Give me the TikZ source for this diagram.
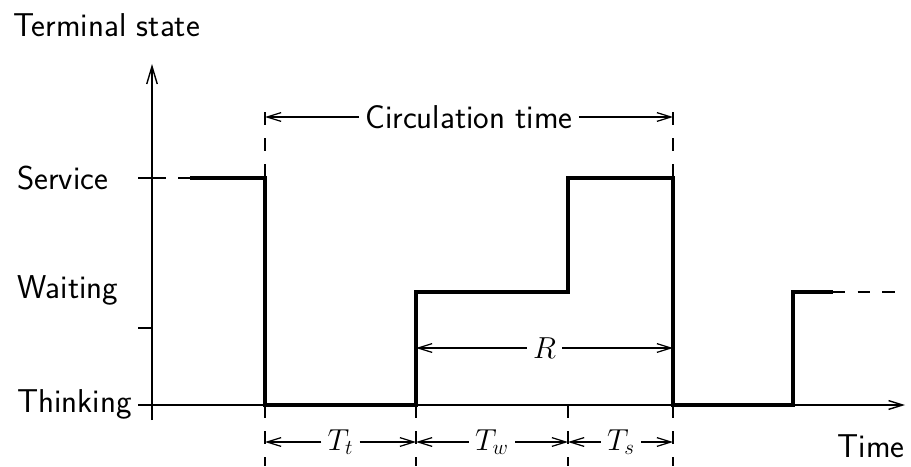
\documentclass[tikz,border=0pt]{standalone}
\usetikzlibrary{arrows.meta, positioning}

\begin{document}
\begin{tikzpicture}[
		x=0.02cm, y=-0.02cm,
		font=\sffamily\fontsize{18.8}{22}\selectfont,
		% --- ESTILOS DE LAS LINEAS ---
		axis/.style = {line width=0.8pt, black},
		signal/.style = {line width=2.8pt, black, line join=miter},
		guide/.style = {line width=0.8pt, dash pattern=on 7.4pt off 7.4pt},
		tail/.style = {line width=0.8pt, dash pattern=on 7pt off 7pt},
		dim/.style = {line width=0.7pt, -{Straight Barb[length=8pt, width=5pt]}},
		% --- ESTILOS DE LOS TEXTOS ---
		lbl/.style = {anchor=base west, inner sep=0pt},
		]
		
		\useasboundingbox (0,0) rectangle (911,466);
		
		% =========================================================================
		% 1. EJES Y ETIQUETAS DE ESTADO
		% =========================================================================
		\coordinate (ytop) at (152,64);
		\coordinate (ybot) at (152,420);
		\coordinate (xstart) at (138,405);
		\coordinate (xend) at (905,405);
		
		\draw [axis, -{Straight Barb[length=10pt, width=6pt]}] (ybot) -- (ytop);
		\draw [axis, -{Straight Barb[length=8pt, width=5pt]}] (xstart) -- (xend);
		\draw [axis] (138,178) -- (165,178);
		\draw [axis] (138,328) -- (152,328);
		
		\node [lbl] (term) at (13,37) {Terminal state};
		\node [lbl] (serv) at (17,189) {Service};
		\node [lbl] (wait) at (17,298) {Waiting};
		\node [lbl] (think) at (17,412) {Thinking};
		\node [anchor=base east, inner sep=0pt] (time) at (905,457) {Time};
		
		% =========================================================================
		% 2. LINEAS GUIA DE LOS INSTANTES
		% =========================================================================
		\coordinate (g0) at (265,405);
		\coordinate (g1) at (416,405);
		\coordinate (g2) at (568,405);
		\coordinate (g3) at (673,405);
		
		\foreach \g in {g0,g1,g2,g3}
			\draw [guide] (\g) -- ([yshift=-61*0.02cm]\g);
		\foreach \g in {g0,g3}
			\draw [guide] ([yshift=293*0.02cm]\g) -- ([yshift=227*0.02cm]\g);
		
		% =========================================================================
		% 3. ESTADO DEL TERMINAL
		% =========================================================================
		\draw [signal] (190,178) -| (g0) -| (416,292) -| (568,178) -| (g3) -| (793,292) -- (833,292);
		\draw [tail] (190,178) -- (165,178);
		\draw [tail] (833,292) -- (900,292);
		
		% =========================================================================
		% 4. COTAS DE TIEMPO
		% =========================================================================
		\node (circ) at (469,117) {Circulation time};
		\draw [dim] (circ.west) -- (circ.west -| g0);
		\draw [dim] (circ.east) -- (circ.east -| g3);
		
		\node (resp) at (544.5,348) {$R$};
		\draw [dim] (resp.west) -- (resp.west -| g1);
		\draw [dim] (resp.east) -- (resp.east -| g3);
		
		\node (tt) at (340.5,442) {$T_t$};
		\draw [dim] (tt.west) -- (tt.west -| g0);
		\draw [dim] (tt.east) -- (tt.east -| g1);
		
		\node (tw) at (492,442) {$T_w$};
		\draw [dim] (tw.west) -- (tw.west -| g1);
		\draw [dim] (tw.east) -- (tw.east -| g2);
		
		\node (ts) at (621,442) {$T_s$};
		\draw [dim] (ts.west) -- (ts.west -| g2);
		\draw [dim] (ts.east) -- (ts.east -| g3);
		
	\end{tikzpicture}
\end{document}
